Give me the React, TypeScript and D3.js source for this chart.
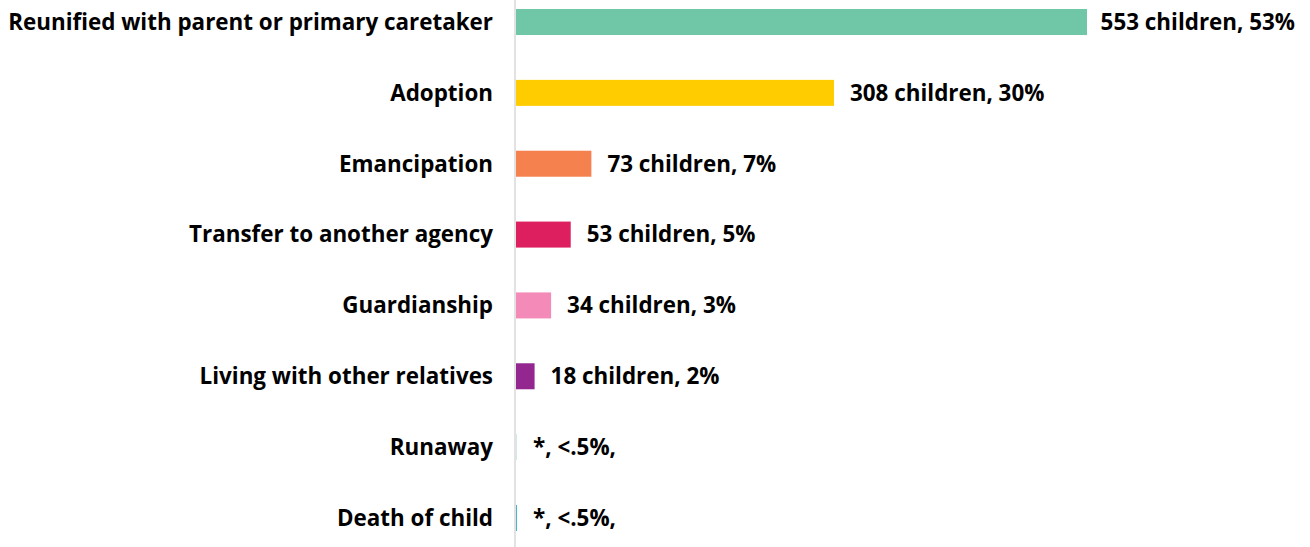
import React, { useEffect, useRef } from "react";
import * as d3 from "d3";

const categories = [
  "Reunified with parent or primary caretaker",
  "Adoption",
  "Emancipation",
  "Transfer to another agency",
  "Guardianship",
  "Living with other relatives",
  "Runaway",
  "Death of child",
];
const counts = [553, 308, 73, 53, 34, 18, 1, 1];
const valueLabels = [
  "553 children, 53%",
  "308 children, 30%",
  "73 children, 7%",
  "53 children, 5%",
  "34 children, 3%",
  "18 children, 2%",
  "*, <.5%,",
  "*, <.5%,",
];
const colors = ["#6fc7a7", "#ffcc00", "#f5814f", "#dd1f5f", "#f48ab8", "#93278f", "#cfe9ef", "#4bb3c8"];

const W = 1310;
const H = 547;
const FONT = "'Open Sans', 'Noto Sans', sans-serif";
const FS = 22.4;

export default function App() {
  const ref = useRef<SVGSVGElement>(null);
  useEffect(() => {
    const svg = d3.select(ref.current);
    svg.selectAll("*").remove();
    const x = d3.scaleLinear().domain([0, 553]).range([516, 1087]);
    const y = d3
      .scaleBand<string>()
      .domain(categories)
      .range([-13.4, 553.4])
      .paddingInner(0.633)
      .paddingOuter(0.3165);

    const data = categories.map((c, i) => ({ c, v: counts[i], label: valueLabels[i], color: colors[i] }));

    svg
      .selectAll("rect.bar")
      .data(data)
      .join("rect")
      .attr("class", "bar")
      .attr("x", x(0))
      .attr("y", (d) => y(d.c)!)
      .attr("width", (d) => Math.max(1, x(d.v) - x(0)))
      .attr("height", y.bandwidth())
      .attr("fill", (d) => d.color);

    svg
      .append("line")
      .attr("x1", 515)
      .attr("x2", 515)
      .attr("y1", 0)
      .attr("y2", H)
      .attr("stroke", "#d9d9d9")
      .attr("stroke-width", 1.5);

    svg
      .selectAll("text.cat")
      .data(data)
      .join("text")
      .attr("class", "cat")
      .attr("x", 493)
      .attr("y", (d) => y(d.c)! + y.bandwidth() / 2)
      .attr("dy", "0.35em")
      .attr("text-anchor", "end")
      .attr("font-family", FONT)
      .attr("font-weight", 700)
      .attr("font-size", FS)
      .attr("fill", "#000")
      .text((d) => d.c);

    const vt = svg
      .selectAll<SVGTextElement, any>("text.val")
      .data(data)
      .join("text")
      .attr("class", "val")
      .attr("y", (d) => y(d.c)! + y.bandwidth() / 2)
      .attr("dy", "0.35em")
      .attr("font-family", FONT)
      .attr("font-weight", 700)
      .attr("font-size", FS)
      .attr("fill", "#000")
      .text((d) => d.label);
    vt.each(function (d) {
      const w = this.getComputedTextLength();
      const xs = Math.min(x(d.v) + 16, W - 15 - w);
      d3.select(this).attr("x", xs);
    });
  }, []);
  return (
    <div style={{ position: "fixed", left: 0, top: 0, width: W, height: H, background: "#fff" }}>
      <svg ref={ref} width={W} height={H} />
    </div>
  );
}
